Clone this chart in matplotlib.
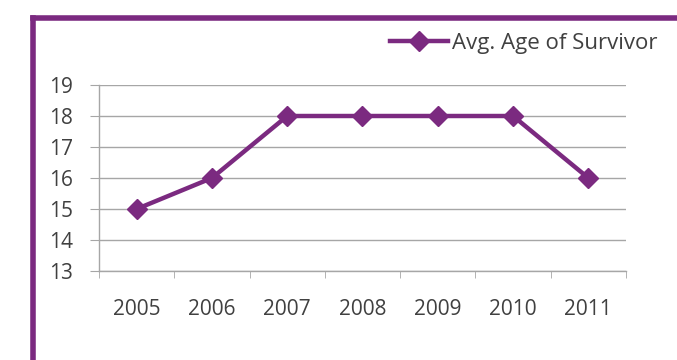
import matplotlib.pyplot as plt
import numpy as np
from matplotlib.lines import Line2D

years = ["2005", "2006", "2007", "2008", "2009", "2010", "2011"]
avg_age = [15, 16, 18, 18, 18, 18, 16]
y_ticks = [13, 14, 15, 16, 17, 18, 19]
series_name = "Avg. Age of Survivor"

purple = "#7B2A80"
text_color = "#404040"
grid_color = "#A6A6A6"

plt.rcParams["font.family"] = ["Open Sans", "DejaVu Sans"]

fig = plt.figure(figsize=(6.77, 3.6), dpi=100)
ax = fig.add_axes([99 / 677, 1 - 271 / 360, 527 / 677, 186 / 360])

x = np.arange(len(years))
ax.plot(x, avg_age, color=purple, linewidth=3.2, marker="D", markersize=10,
        label=series_name)

ax.set_xlim(-0.5, len(years) - 0.5)
ax.set_ylim(min(y_ticks), max(y_ticks))
ax.set_yticks(y_ticks)
ax.set_xticks(x)
ax.set_xticklabels(years)
ax.set_xticks(np.arange(len(years) + 1) - 0.5, minor=True)
ax.tick_params(axis="x", which="major", length=0, pad=20, labelsize=15, colors=text_color)
ax.tick_params(axis="x", which="minor", length=5, color=grid_color, direction="out")
ax.tick_params(axis="y", length=6.5, color=grid_color, labelsize=15, labelcolor=text_color, pad=12)

ax.grid(axis="y", color=grid_color, linewidth=1)
ax.set_axisbelow(True)
for side in ["top", "right"]:
    ax.spines[side].set_visible(False)
for side in ["left", "bottom"]:
    ax.spines[side].set_color(grid_color)
    ax.spines[side].set_linewidth(1)

leg = ax.legend(loc="center right", bbox_to_anchor=(658 / 677, 1 - 43 / 360),
                bbox_transform=fig.transFigure, frameon=False, fontsize=16,
                handlelength=2.6, handletextpad=0.2, borderaxespad=0, borderpad=0)
for t in leg.get_texts():
    t.set_color(text_color)

# purple frame around the chart (only left and top edges inside the image)
fig.add_artist(Line2D([33 / 677, 33 / 677], [0, 1 - 18 / 360], transform=fig.transFigure,
                      color=purple, linewidth=4, solid_capstyle="projecting"))
fig.add_artist(Line2D([33 / 677, 1], [1 - 18 / 360, 1 - 18 / 360], transform=fig.transFigure,
                      color=purple, linewidth=4, solid_capstyle="projecting"))

fig.savefig("out.png", dpi=100)
